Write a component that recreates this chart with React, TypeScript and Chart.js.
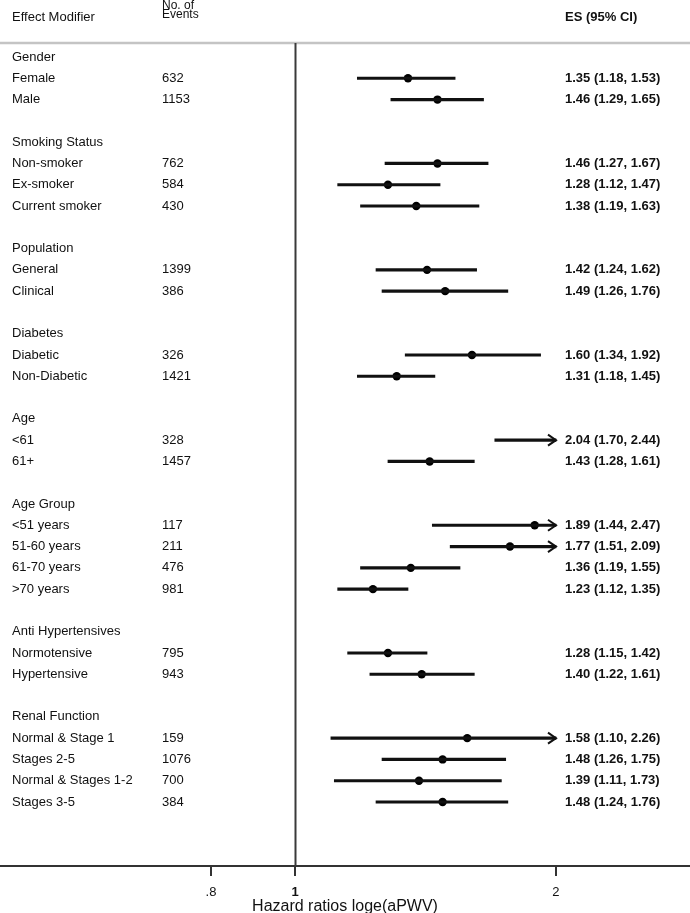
import React, { useEffect, useRef } from 'react';
import { Chart, registerables } from 'chart.js';

Chart.register(...registerables);

const groupNames = ['Gender', 'Smoking Status', 'Population', 'Diabetes', 'Age', 'Age Group', 'Anti Hypertensives', 'Renal Function'];
const groupSizes = [2, 3, 2, 2, 2, 4, 2, 4];
const subgroups = [
  'Female', 'Male',
  'Non-smoker', 'Ex-smoker', 'Current smoker',
  'General', 'Clinical',
  'Diabetic', 'Non-Diabetic',
  '<61', '61+',
  '<51 years', '51-60 years', '61-70 years', '>70 years',
  'Normotensive', 'Hypertensive',
  'Normal & Stage 1', 'Stages 2-5', 'Normal & Stages 1-2', 'Stages 3-5',
];
const events = [632, 1153, 762, 584, 430, 1399, 386, 326, 1421, 328, 1457, 117, 211, 476, 981, 795, 943, 159, 1076, 700, 384];
const es = [1.35, 1.46, 1.46, 1.28, 1.38, 1.42, 1.49, 1.60, 1.31, 2.04, 1.43, 1.89, 1.77, 1.36, 1.23, 1.28, 1.40, 1.58, 1.48, 1.39, 1.48];
const lo = [1.18, 1.29, 1.27, 1.12, 1.19, 1.24, 1.26, 1.34, 1.18, 1.70, 1.28, 1.44, 1.51, 1.19, 1.12, 1.15, 1.22, 1.10, 1.26, 1.11, 1.24];
const hi = [1.53, 1.65, 1.67, 1.47, 1.63, 1.62, 1.76, 1.92, 1.45, 2.44, 1.61, 2.47, 2.09, 1.55, 1.35, 1.42, 1.61, 2.26, 1.75, 1.73, 1.76];
const xTicks = [0.8, 1, 2];
const xTickLabels = ['.8', '1', '2'];
const X_CLIP = 2;
const X_MIN = 0.4568;
const X_MAX = 2.855;
const Y_MIN = -0.658;
const Y_MAX = 38.007;

const FONT = '"Liberation Sans", Arial, Helvetica, sans-serif';

export default function App() {
  const ref = useRef<HTMLCanvasElement | null>(null);

  useEffect(() => {
    if (!ref.current) return;
    const headerRows: { text: string; row: number }[] = [];
    const itemRow: number[] = [];
    let r = 0;
    let k = 0;
    groupNames.forEach((g, gi) => {
      headerRows.push({ text: g, row: r });
      r++;
      for (let j = 0; j < groupSizes[gi]; j++) {
        itemRow[k++] = r;
        r++;
      }
      r++;
    });

    const bars = subgroups.map((_, i) => ({ x: [lo[i], Math.min(hi[i], X_CLIP)], y: itemRow[i] }));
    const pts = subgroups
      .map((_, i) => ({ x: es[i], y: itemRow[i] }))
      .filter((p) => p.x <= X_CLIP);

    const textPlugin = {
      id: 'forestText',
      beforeDatasetsDraw(chart: any) {
        const { ctx, chartArea, scales } = chart;
        const xs = scales.x;
        ctx.save();
        ctx.strokeStyle = '#c4c4c4';
        ctx.lineWidth = 2.5;
        ctx.beginPath();
        ctx.moveTo(0, chartArea.top);
        ctx.lineTo(chart.width, chartArea.top);
        ctx.stroke();
        const x1 = Math.round(xs.getPixelForValue(1)) + 0.5;
        ctx.strokeStyle = '#3a3a3a';
        ctx.lineWidth = 2;
        ctx.beginPath();
        ctx.moveTo(x1, chartArea.top);
        ctx.lineTo(x1, chartArea.bottom);
        ctx.stroke();
        ctx.restore();
      },
      afterDatasetsDraw(chart: any) {
        const { ctx, scales } = chart;
        const xs = scales.x;
        const ys = scales.y;
        ctx.save();
        ctx.fillStyle = '#111';
        ctx.textBaseline = 'middle';
        ctx.textAlign = 'left';
        ctx.font = `13px ${FONT}`;
        ctx.fillText('Effect Modifier', 12, 17);
        ctx.font = `12px ${FONT}`;
        ctx.fillText('No. of', 162, 6);
        ctx.fillText('Events', 162, 15);
        ctx.font = `bold 13px ${FONT}`;
        ctx.fillText('ES (95% CI)', 565, 17);
        ctx.font = `13px ${FONT}`;
        headerRows.forEach((h) => {
          ctx.fillText(h.text, 12, ys.getPixelForValue(h.row));
        });
        subgroups.forEach((s, i) => {
          const y = ys.getPixelForValue(itemRow[i]);
          ctx.font = `13px ${FONT}`;
          ctx.fillText(s, 12, y);
          ctx.fillText(String(events[i]), 162, y);
          ctx.font = `bold 13px ${FONT}`;
          ctx.fillText(`${es[i].toFixed(2)} (${lo[i].toFixed(2)}, ${hi[i].toFixed(2)})`, 565, y);
        });
        ctx.strokeStyle = '#111';
        ctx.lineWidth = 2;
        ctx.lineJoin = 'miter';
        subgroups.forEach((_, i) => {
          if (hi[i] > X_CLIP) {
            const px = xs.getPixelForValue(X_CLIP);
            const py = ys.getPixelForValue(itemRow[i]);
            ctx.beginPath();
            ctx.moveTo(px - 8, py - 5.5);
            ctx.lineTo(px, py);
            ctx.lineTo(px - 8, py + 5.5);
            ctx.stroke();
          }
        });
        ctx.restore();
      },
    };

    const chart = new Chart(ref.current, {
      type: 'bar',
      data: {
        datasets: [
          {
            type: 'bar',
            data: bars as any,
            backgroundColor: '#111',
            borderWidth: 0,
            barThickness: 2.5,
            grouped: false,
          } as any,
          {
            type: 'scatter',
            data: pts as any,
            backgroundColor: '#000',
            borderWidth: 0,
            pointRadius: 4.2,
          } as any,
        ],
      },
      options: {
        indexAxis: 'y',
        animation: false,
        responsive: false,
        devicePixelRatio: 1,
        layout: { autoPadding: false, padding: { top: 43, left: 0, right: 0, bottom: 0 } },
        plugins: { legend: { display: false }, tooltip: { enabled: false }, title: { display: false } },
        scales: {
          x: {
            type: 'logarithmic',
            position: 'bottom',
            min: X_MIN,
            max: X_MAX,
            offset: false,
            afterBuildTicks: (scale: any) => {
              scale.ticks = xTicks.map((v) => ({ value: v }));
            },
            afterFit: (scale: any) => {
              scale.height = 47;
            },
            ticks: {
              autoSkip: false,
              maxRotation: 0,
              padding: 9,
              color: '#111',
              font: (ctx: any) => ({
                family: FONT,
                size: 13,
                weight: ctx.tick && ctx.tick.value === 1 ? 'bold' : 'normal',
              }),
              callback: (v: any) => {
                const idx = xTicks.indexOf(Number(v));
                return idx >= 0 ? xTickLabels[idx] : '';
              },
            },
            grid: {
              display: true,
              drawOnChartArea: false,
              drawTicks: true,
              tickLength: 10,
              color: '#333',
              lineWidth: 2,
            },
            border: { display: true, color: '#333', width: 2 },
            title: {
              display: true,
              text: 'Hazard ratios loge(aPWV)',
              color: '#111',
              padding: 0,
              font: { family: FONT, size: 16, lineHeight: 0.85 },
            },
          },
          y: {
            type: 'linear',
            display: false,
            reverse: true,
            offset: false,
            grace: 0,
            min: Y_MIN,
            max: Y_MAX,
          },
        },
      } as any,
      plugins: [textPlugin],
    });
    return () => chart.destroy();
  }, []);

  return (
    <div style={{ position: 'absolute', left: 0, top: 0, width: 690, height: 913, background: '#fff' }}>
      <canvas ref={ref} width={690} height={913} />
    </div>
  );
}
